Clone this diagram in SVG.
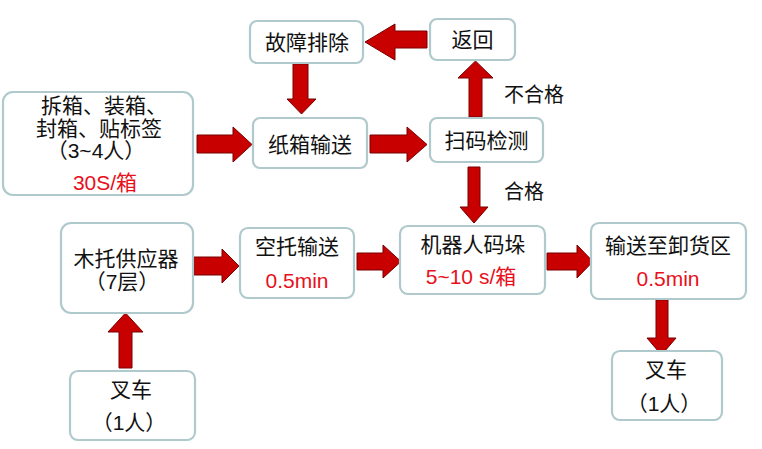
<svg xmlns="http://www.w3.org/2000/svg" width="762" height="449" viewBox="0 0 762 449">
<style>
.box{fill:#fff;stroke:#b0c9cc;stroke-width:2.2}
.arr{fill:#c80000;stroke:#7a0000;stroke-width:1}
text{font-family:"Liberation Sans","Noto Sans CJK SC",sans-serif;font-size:21px;fill:#111;text-anchor:middle;dominant-baseline:central}
.red{fill:#e8101c}
.lbl{text-anchor:start;font-size:20px}
</style>
<rect width="762" height="449" fill="#fff"/>
<g id="connectors">
<polygon class="arr" points="427,31 395,31 395,24 365,42 395,60 395,48 427,48"/>
<polygon class="arr" points="293,64 293,99 287,99 301.5,114 316,99 308,99 308,64"/>
<polygon class="arr" points="197,135 233,135 233,127 252,144.5 233,162 233,153 197,153"/>
<polygon class="arr" points="370,135 407,135 407,127 427,144.5 407,162 407,153 370,153"/>
<polygon class="arr" points="469,117 469,78 458,78 475.5,61 493,78 482,78 482,117"/>
<polygon class="arr" points="468,167 468,207 460,207 474,223 488,207 480,207 480,167"/>
<polygon class="arr" points="194,257 222,257 222,249 239,266 222,283 222,275 194,275"/>
<polygon class="arr" points="357,253 383,253 383,245 401,261.5 383,278 383,270 357,270"/>
<polygon class="arr" points="547,253 577,253 577,245 593,261.5 577,278 577,270 547,270"/>
<polygon class="arr" points="656,300 656,338 647,338 661.5,355 676,338 668,338 668,300"/>
<polygon class="arr" points="119,368 119,332 108,332 125.5,313 143,332 132,332 132,368"/>
</g>
<g id="n_guzhang"><rect class="box" x="250" y="21" width="113" height="42" rx="7"/><text x="307" y="42">故障排除</text></g>
<g id="n_fanhui"><rect class="box" x="430" y="19" width="85" height="41" rx="7"/><text x="472.5" y="39">返回</text></g>
<g id="n_chaixiang"><rect class="box" x="3" y="92" width="190" height="103" rx="10"/>
<text x="104" y="105">拆箱、装箱、</text>
<text x="99" y="128">封箱、贴标签</text>
<text x="96" y="150">（3~4人）</text>
<text class="red" x="105" y="182">30S/箱</text></g>
<g id="n_zhixiang"><rect class="box" x="253" y="118" width="114" height="50" rx="7"/><text x="310" y="144">纸箱输送</text></g>
<g id="n_saoma"><rect class="box" x="430" y="118" width="113" height="44" rx="7"/><text x="486.5" y="140">扫码检测</text></g>
<text class="lbl" x="504" y="95">不合格</text>
<text class="lbl" x="504" y="192">合格</text>
<g id="n_mutuo"><rect class="box" x="61" y="223" width="132" height="90" rx="10"/><text x="126" y="258">木托供应器</text><text x="122" y="281">（7层）</text></g>
<g id="n_kongtuo"><rect class="box" x="240" y="228" width="114" height="70" rx="8"/><text x="297" y="246">空托输送</text><text class="red" x="297" y="280">0.5min</text></g>
<g id="n_jiqiren"><rect class="box" x="400" y="226" width="145" height="68" rx="8"/><text x="473" y="244">机器人码垛</text><text class="red" x="471" y="276">5~10 s/箱</text></g>
<g id="n_shusong"><rect class="box" x="591" y="223" width="155" height="76" rx="8"/><text x="668" y="245">输送至卸货区</text><text class="red" x="668" y="278">0.5min</text></g>
<g id="n_chache1"><rect class="box" x="70" y="371" width="125" height="69" rx="8"/><text x="131" y="389">叉车</text><text x="129" y="422">（1人）</text></g>
<g id="n_chache2"><rect class="box" x="612" y="351" width="110" height="69" rx="8"/><text x="666" y="369">叉车</text><text x="664" y="403">（1人）</text></g>
</svg>
